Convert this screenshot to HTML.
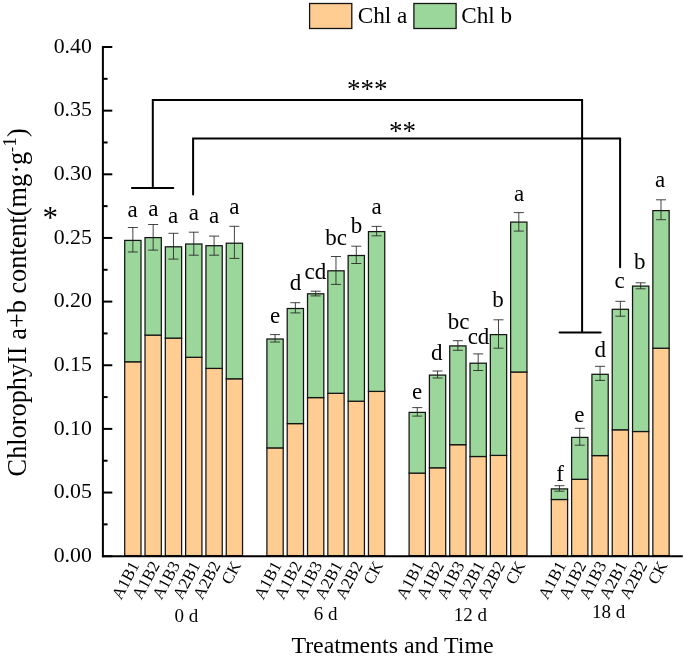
<!DOCTYPE html>
<html><head><meta charset="utf-8"><title>Chart</title>
<style>html,body{margin:0;padding:0;background:#fff;}body{width:685px;height:657px;position:relative;overflow:hidden;font-family:"Liberation Serif",serif;}</style></head>
<body>
<svg width="685" height="657" viewBox="0 0 685 657" style="position:absolute;left:0;top:0;will-change:transform" font-family="'Liberation Serif', serif" fill="#000">
<rect x="124.70" y="361.80" width="16.30" height="193.80" fill="#FFCC92" stroke="#141414" stroke-width="1.25"/>
<rect x="124.70" y="240.40" width="16.30" height="121.40" fill="#9BD69B" stroke="#141414" stroke-width="1.25"/>
<path d="M132.85 227.50V252.00M127.85 227.50H137.85M127.85 252.00H137.85" stroke="#222" stroke-width="0.85" fill="none"/>
<rect x="145.01" y="335.10" width="16.30" height="220.50" fill="#FFCC92" stroke="#141414" stroke-width="1.25"/>
<rect x="145.01" y="237.60" width="16.30" height="97.50" fill="#9BD69B" stroke="#141414" stroke-width="1.25"/>
<path d="M153.16 224.50V250.10M148.16 224.50H158.16M148.16 250.10H158.16" stroke="#222" stroke-width="0.85" fill="none"/>
<rect x="165.32" y="338.10" width="16.30" height="217.50" fill="#FFCC92" stroke="#141414" stroke-width="1.25"/>
<rect x="165.32" y="246.80" width="16.30" height="91.30" fill="#9BD69B" stroke="#141414" stroke-width="1.25"/>
<path d="M173.47 233.30V259.10M168.47 233.30H178.47M168.47 259.10H178.47" stroke="#222" stroke-width="0.85" fill="none"/>
<rect x="185.63" y="357.30" width="16.30" height="198.30" fill="#FFCC92" stroke="#141414" stroke-width="1.25"/>
<rect x="185.63" y="244.00" width="16.30" height="113.30" fill="#9BD69B" stroke="#141414" stroke-width="1.25"/>
<path d="M193.78 232.20V255.20M188.78 232.20H198.78M188.78 255.20H198.78" stroke="#222" stroke-width="0.85" fill="none"/>
<rect x="205.94" y="368.40" width="16.30" height="187.20" fill="#FFCC92" stroke="#141414" stroke-width="1.25"/>
<rect x="205.94" y="245.70" width="16.30" height="122.70" fill="#9BD69B" stroke="#141414" stroke-width="1.25"/>
<path d="M214.09 236.10V255.20M209.09 236.10H219.09M209.09 255.20H219.09" stroke="#222" stroke-width="0.85" fill="none"/>
<rect x="226.25" y="378.80" width="16.30" height="176.80" fill="#FFCC92" stroke="#141414" stroke-width="1.25"/>
<rect x="226.25" y="243.20" width="16.30" height="135.60" fill="#9BD69B" stroke="#141414" stroke-width="1.25"/>
<path d="M234.40 226.30V258.40M229.40 226.30H239.40M229.40 258.40H239.40" stroke="#222" stroke-width="0.85" fill="none"/>
<rect x="266.90" y="447.90" width="16.30" height="107.70" fill="#FFCC92" stroke="#141414" stroke-width="1.25"/>
<rect x="266.90" y="339.00" width="16.30" height="108.90" fill="#9BD69B" stroke="#141414" stroke-width="1.25"/>
<path d="M275.05 334.60V342.00M270.05 334.60H280.05M270.05 342.00H280.05" stroke="#222" stroke-width="0.85" fill="none"/>
<rect x="287.21" y="423.60" width="16.30" height="132.00" fill="#FFCC92" stroke="#141414" stroke-width="1.25"/>
<rect x="287.21" y="308.50" width="16.30" height="115.10" fill="#9BD69B" stroke="#141414" stroke-width="1.25"/>
<path d="M295.36 302.70V312.90M290.36 302.70H300.36M290.36 312.90H300.36" stroke="#222" stroke-width="0.85" fill="none"/>
<rect x="307.52" y="397.60" width="16.30" height="158.00" fill="#FFCC92" stroke="#141414" stroke-width="1.25"/>
<rect x="307.52" y="293.80" width="16.30" height="103.80" fill="#9BD69B" stroke="#141414" stroke-width="1.25"/>
<path d="M315.67 291.20V295.90M310.67 291.20H320.67M310.67 295.90H320.67" stroke="#222" stroke-width="0.85" fill="none"/>
<rect x="327.83" y="393.30" width="16.30" height="162.30" fill="#FFCC92" stroke="#141414" stroke-width="1.25"/>
<rect x="327.83" y="270.80" width="16.30" height="122.50" fill="#9BD69B" stroke="#141414" stroke-width="1.25"/>
<path d="M335.98 256.50V284.40M330.98 256.50H340.98M330.98 284.40H340.98" stroke="#222" stroke-width="0.85" fill="none"/>
<rect x="348.14" y="401.20" width="16.30" height="154.40" fill="#FFCC92" stroke="#141414" stroke-width="1.25"/>
<rect x="348.14" y="255.50" width="16.30" height="145.70" fill="#9BD69B" stroke="#141414" stroke-width="1.25"/>
<path d="M356.29 246.20V263.50M351.29 246.20H361.29M351.29 263.50H361.29" stroke="#222" stroke-width="0.85" fill="none"/>
<rect x="368.45" y="391.40" width="16.30" height="164.20" fill="#FFCC92" stroke="#141414" stroke-width="1.25"/>
<rect x="368.45" y="231.60" width="16.30" height="159.80" fill="#9BD69B" stroke="#141414" stroke-width="1.25"/>
<path d="M376.60 226.40V235.80M371.60 226.40H381.60M371.60 235.80H381.60" stroke="#222" stroke-width="0.85" fill="none"/>
<rect x="409.10" y="473.10" width="16.30" height="82.50" fill="#FFCC92" stroke="#141414" stroke-width="1.25"/>
<rect x="409.10" y="412.40" width="16.30" height="60.70" fill="#9BD69B" stroke="#141414" stroke-width="1.25"/>
<path d="M417.25 407.60V416.10M412.25 407.60H422.25M412.25 416.10H422.25" stroke="#222" stroke-width="0.85" fill="none"/>
<rect x="429.41" y="467.80" width="16.30" height="87.80" fill="#FFCC92" stroke="#141414" stroke-width="1.25"/>
<rect x="429.41" y="375.10" width="16.30" height="92.70" fill="#9BD69B" stroke="#141414" stroke-width="1.25"/>
<path d="M437.56 371.00V378.00M432.56 371.00H442.56M432.56 378.00H442.56" stroke="#222" stroke-width="0.85" fill="none"/>
<rect x="449.72" y="444.70" width="16.30" height="110.90" fill="#FFCC92" stroke="#141414" stroke-width="1.25"/>
<rect x="449.72" y="345.90" width="16.30" height="98.80" fill="#9BD69B" stroke="#141414" stroke-width="1.25"/>
<path d="M457.87 340.70V350.30M452.87 340.70H462.87M452.87 350.30H462.87" stroke="#222" stroke-width="0.85" fill="none"/>
<rect x="470.03" y="456.50" width="16.30" height="99.10" fill="#FFCC92" stroke="#141414" stroke-width="1.25"/>
<rect x="470.03" y="363.20" width="16.30" height="93.30" fill="#9BD69B" stroke="#141414" stroke-width="1.25"/>
<path d="M478.18 353.90V370.50M473.18 353.90H483.18M473.18 370.50H483.18" stroke="#222" stroke-width="0.85" fill="none"/>
<rect x="490.34" y="455.40" width="16.30" height="100.20" fill="#FFCC92" stroke="#141414" stroke-width="1.25"/>
<rect x="490.34" y="334.60" width="16.30" height="120.80" fill="#9BD69B" stroke="#141414" stroke-width="1.25"/>
<path d="M498.49 319.80V348.20M493.49 319.80H503.49M493.49 348.20H503.49" stroke="#222" stroke-width="0.85" fill="none"/>
<rect x="510.65" y="372.00" width="16.30" height="183.60" fill="#FFCC92" stroke="#141414" stroke-width="1.25"/>
<rect x="510.65" y="222.10" width="16.30" height="149.90" fill="#9BD69B" stroke="#141414" stroke-width="1.25"/>
<path d="M518.80 212.60V231.10M513.80 212.60H523.80M513.80 231.10H523.80" stroke="#222" stroke-width="0.85" fill="none"/>
<rect x="551.30" y="499.50" width="16.30" height="56.10" fill="#FFCC92" stroke="#141414" stroke-width="1.25"/>
<rect x="551.30" y="488.90" width="16.30" height="10.60" fill="#9BD69B" stroke="#141414" stroke-width="1.25"/>
<path d="M559.45 485.70V491.20M554.45 485.70H564.45M554.45 491.20H564.45" stroke="#222" stroke-width="0.85" fill="none"/>
<rect x="571.61" y="479.30" width="16.30" height="76.30" fill="#FFCC92" stroke="#141414" stroke-width="1.25"/>
<rect x="571.61" y="437.40" width="16.30" height="41.90" fill="#9BD69B" stroke="#141414" stroke-width="1.25"/>
<path d="M579.76 428.30V445.20M574.76 428.30H584.76M574.76 445.20H584.76" stroke="#222" stroke-width="0.85" fill="none"/>
<rect x="591.92" y="455.60" width="16.30" height="100.00" fill="#FFCC92" stroke="#141414" stroke-width="1.25"/>
<rect x="591.92" y="374.30" width="16.30" height="81.30" fill="#9BD69B" stroke="#141414" stroke-width="1.25"/>
<path d="M600.07 366.30V380.40M595.07 366.30H605.07M595.07 380.40H605.07" stroke="#222" stroke-width="0.85" fill="none"/>
<rect x="612.23" y="429.80" width="16.30" height="125.80" fill="#FFCC92" stroke="#141414" stroke-width="1.25"/>
<rect x="612.23" y="309.30" width="16.30" height="120.50" fill="#9BD69B" stroke="#141414" stroke-width="1.25"/>
<path d="M620.38 301.30V316.20M615.38 301.30H625.38M615.38 316.20H625.38" stroke="#222" stroke-width="0.85" fill="none"/>
<rect x="632.54" y="431.50" width="16.30" height="124.10" fill="#FFCC92" stroke="#141414" stroke-width="1.25"/>
<rect x="632.54" y="286.10" width="16.30" height="145.40" fill="#9BD69B" stroke="#141414" stroke-width="1.25"/>
<path d="M640.69 282.80V288.80M635.69 282.80H645.69M635.69 288.80H645.69" stroke="#222" stroke-width="0.85" fill="none"/>
<rect x="652.85" y="348.20" width="16.30" height="207.40" fill="#FFCC92" stroke="#141414" stroke-width="1.25"/>
<rect x="652.85" y="210.60" width="16.30" height="137.60" fill="#9BD69B" stroke="#141414" stroke-width="1.25"/>
<path d="M661.00 199.80V219.70M656.00 199.80H666.00M656.00 219.70H666.00" stroke="#222" stroke-width="0.85" fill="none"/>
<path d="M102.9 45.9V557.2" stroke="#000" stroke-width="2" fill="none"/>
<path d="M101.9 556.2H682.8" stroke="#000" stroke-width="2" fill="none"/>
<path d="M102.9 556.20H112.3" stroke="#000" stroke-width="2"/>
<path d="M102.9 524.37H107.6" stroke="#000" stroke-width="2"/>
<text x="91.8" y="562.00" font-size="21.8" text-anchor="end">0.00</text>
<path d="M102.9 492.55H112.3" stroke="#000" stroke-width="2"/>
<path d="M102.9 460.72H107.6" stroke="#000" stroke-width="2"/>
<text x="91.8" y="498.35" font-size="21.8" text-anchor="end">0.05</text>
<path d="M102.9 428.90H112.3" stroke="#000" stroke-width="2"/>
<path d="M102.9 397.07H107.6" stroke="#000" stroke-width="2"/>
<text x="91.8" y="434.70" font-size="21.8" text-anchor="end">0.10</text>
<path d="M102.9 365.25H112.3" stroke="#000" stroke-width="2"/>
<path d="M102.9 333.42H107.6" stroke="#000" stroke-width="2"/>
<text x="91.8" y="371.05" font-size="21.8" text-anchor="end">0.15</text>
<path d="M102.9 301.60H112.3" stroke="#000" stroke-width="2"/>
<path d="M102.9 269.77H107.6" stroke="#000" stroke-width="2"/>
<text x="91.8" y="307.40" font-size="21.8" text-anchor="end">0.20</text>
<path d="M102.9 237.95H112.3" stroke="#000" stroke-width="2"/>
<path d="M102.9 206.12H107.6" stroke="#000" stroke-width="2"/>
<text x="91.8" y="243.75" font-size="21.8" text-anchor="end">0.25</text>
<path d="M102.9 174.30H112.3" stroke="#000" stroke-width="2"/>
<path d="M102.9 142.47H107.6" stroke="#000" stroke-width="2"/>
<text x="91.8" y="180.10" font-size="21.8" text-anchor="end">0.30</text>
<path d="M102.9 110.65H112.3" stroke="#000" stroke-width="2"/>
<path d="M102.9 78.82H107.6" stroke="#000" stroke-width="2"/>
<text x="91.8" y="116.45" font-size="21.8" text-anchor="end">0.35</text>
<path d="M102.9 47.00H112.3" stroke="#000" stroke-width="2"/>
<text x="91.8" y="52.80" font-size="21.8" text-anchor="end">0.40</text>
<text x="132.70" y="217.10" font-size="23" text-anchor="middle">a</text>
<text x="153.40" y="215.80" font-size="23" text-anchor="middle">a</text>
<text x="173.20" y="222.80" font-size="23" text-anchor="middle">a</text>
<text x="193.80" y="220.20" font-size="23" text-anchor="middle">a</text>
<text x="214.10" y="222.80" font-size="23" text-anchor="middle">a</text>
<text x="234.30" y="214.30" font-size="23" text-anchor="middle">a</text>
<text x="275.20" y="323.10" font-size="23" text-anchor="middle">e</text>
<text x="295.50" y="289.70" font-size="23" text-anchor="middle">d</text>
<text x="315.30" y="279.40" font-size="23" text-anchor="middle">cd</text>
<text x="336.00" y="245.30" font-size="23" text-anchor="middle">bc</text>
<text x="356.40" y="232.60" font-size="23" text-anchor="middle">b</text>
<text x="376.50" y="213.80" font-size="23" text-anchor="middle">a</text>
<text x="417.00" y="398.80" font-size="23" text-anchor="middle">e</text>
<text x="436.80" y="359.90" font-size="23" text-anchor="middle">d</text>
<text x="458.50" y="329.00" font-size="23" text-anchor="middle">bc</text>
<text x="478.50" y="343.90" font-size="23" text-anchor="middle">cd</text>
<text x="497.90" y="306.60" font-size="23" text-anchor="middle">b</text>
<text x="519.00" y="200.80" font-size="23" text-anchor="middle">a</text>
<text x="560.20" y="480.50" font-size="23" text-anchor="middle">f</text>
<text x="579.40" y="421.90" font-size="23" text-anchor="middle">e</text>
<text x="600.30" y="356.50" font-size="23" text-anchor="middle">d</text>
<text x="619.50" y="288.40" font-size="23" text-anchor="middle">c</text>
<text x="639.70" y="269.30" font-size="23" text-anchor="middle">b</text>
<text x="660.00" y="187.20" font-size="23" text-anchor="middle">a</text>
<text transform="translate(134.95 562.40) rotate(-62)" font-size="16.8" text-anchor="end" dominant-baseline="central">A1B1</text>
<text transform="translate(155.26 562.40) rotate(-62)" font-size="16.8" text-anchor="end" dominant-baseline="central">A1B2</text>
<text transform="translate(175.57 562.40) rotate(-62)" font-size="16.8" text-anchor="end" dominant-baseline="central">A1B3</text>
<text transform="translate(195.88 562.40) rotate(-62)" font-size="16.8" text-anchor="end" dominant-baseline="central">A2B1</text>
<text transform="translate(216.19 562.40) rotate(-62)" font-size="16.8" text-anchor="end" dominant-baseline="central">A2B2</text>
<text transform="translate(236.50 562.40) rotate(-62)" font-size="16.8" text-anchor="end" dominant-baseline="central">CK</text>
<text transform="translate(277.15 562.40) rotate(-62)" font-size="16.8" text-anchor="end" dominant-baseline="central">A1B1</text>
<text transform="translate(297.46 562.40) rotate(-62)" font-size="16.8" text-anchor="end" dominant-baseline="central">A1B2</text>
<text transform="translate(317.77 562.40) rotate(-62)" font-size="16.8" text-anchor="end" dominant-baseline="central">A1B3</text>
<text transform="translate(338.08 562.40) rotate(-62)" font-size="16.8" text-anchor="end" dominant-baseline="central">A2B1</text>
<text transform="translate(358.39 562.40) rotate(-62)" font-size="16.8" text-anchor="end" dominant-baseline="central">A2B2</text>
<text transform="translate(378.70 562.40) rotate(-62)" font-size="16.8" text-anchor="end" dominant-baseline="central">CK</text>
<text transform="translate(419.35 562.40) rotate(-62)" font-size="16.8" text-anchor="end" dominant-baseline="central">A1B1</text>
<text transform="translate(439.66 562.40) rotate(-62)" font-size="16.8" text-anchor="end" dominant-baseline="central">A1B2</text>
<text transform="translate(459.97 562.40) rotate(-62)" font-size="16.8" text-anchor="end" dominant-baseline="central">A1B3</text>
<text transform="translate(480.28 562.40) rotate(-62)" font-size="16.8" text-anchor="end" dominant-baseline="central">A2B1</text>
<text transform="translate(500.59 562.40) rotate(-62)" font-size="16.8" text-anchor="end" dominant-baseline="central">A2B2</text>
<text transform="translate(520.90 562.40) rotate(-62)" font-size="16.8" text-anchor="end" dominant-baseline="central">CK</text>
<text transform="translate(561.55 562.40) rotate(-62)" font-size="16.8" text-anchor="end" dominant-baseline="central">A1B1</text>
<text transform="translate(581.86 562.40) rotate(-62)" font-size="16.8" text-anchor="end" dominant-baseline="central">A1B2</text>
<text transform="translate(602.17 562.40) rotate(-62)" font-size="16.8" text-anchor="end" dominant-baseline="central">A1B3</text>
<text transform="translate(622.48 562.40) rotate(-62)" font-size="16.8" text-anchor="end" dominant-baseline="central">A2B1</text>
<text transform="translate(642.79 562.40) rotate(-62)" font-size="16.8" text-anchor="end" dominant-baseline="central">A2B2</text>
<text transform="translate(663.10 562.40) rotate(-62)" font-size="16.8" text-anchor="end" dominant-baseline="central">CK</text>
<text x="186.30" y="621.50" font-size="19" text-anchor="middle">0 d</text>
<text x="325.50" y="619.60" font-size="19" text-anchor="middle">6 d</text>
<text x="470.30" y="621.00" font-size="19" text-anchor="middle">12 d</text>
<text x="608.60" y="618.20" font-size="19" text-anchor="middle">18 d</text>
<text x="392.5" y="652.8" font-size="23.9" text-anchor="middle">Treatments and Time</text>
<text transform="translate(26 302.3) rotate(-90)" font-size="26.3" text-anchor="middle">ChlorophyII a+b content(mg·g<tspan font-size="15.5" dy="-10">-</tspan><tspan font-size="19.5">1</tspan><tspan dy="10">)</tspan></text>
<text x="50.2" y="228" font-size="31" text-anchor="middle">*</text>
<path d="M131.9 188.1H173.3M152.8 188.1V99.9H582.1V332.4M559.6 332.4H600.7" stroke="#000" stroke-width="2" fill="none" stroke-linecap="round"/>
<path d="M193.1 194.5V138.5H620.1V267.2" stroke="#000" stroke-width="2" fill="none" stroke-linecap="round"/>
<text x="367.3" y="97.6" font-size="27" text-anchor="middle">***</text>
<text x="402.6" y="139.6" font-size="27" text-anchor="middle">**</text>
<rect x="309.6" y="3.5" width="42.2" height="25" fill="#FFCC92" stroke="#141414" stroke-width="1.3"/>
<rect x="413.9" y="3.5" width="42.2" height="25" fill="#9BD69B" stroke="#141414" stroke-width="1.3"/>
<text x="357.7" y="23.4" font-size="23.2">Chl a</text>
<text x="461.3" y="23.4" font-size="23.2">Chl b</text>
</svg>
</body></html>
